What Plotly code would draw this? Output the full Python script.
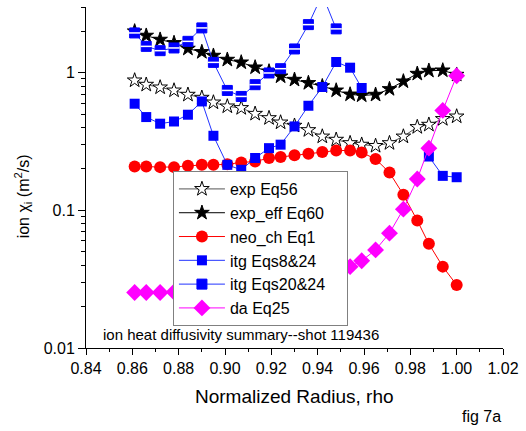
import plotly.graph_objects as go

rho = [0.861, 0.866, 0.872, 0.878, 0.884, 0.890, 0.895, 0.901, 0.907, 0.913,
       0.919, 0.924, 0.930, 0.936, 0.942, 0.948, 0.954, 0.959, 0.965, 0.971,
       0.977, 0.983, 0.988, 0.994, 1.000]

exp_eq56 = [0.879, 0.818, 0.782, 0.743, 0.692, 0.658, 0.608, 0.569, 0.554, 0.503,
            0.468, 0.435, 0.412, 0.383, 0.344, 0.326, 0.308, 0.300, 0.294, 0.308,
            0.344, 0.403, 0.419, 0.461, 0.481]

exp_eff_eq60 = [1.997, 1.858, 1.738, 1.644, 1.495, 1.414, 1.329, 1.243, 1.188, 1.093,
                1.022, 0.940, 0.889, 0.842, 0.798, 0.743, 0.695, 0.684, 0.692, 0.761,
                0.865, 0.983, 1.034, 1.039, 0.967]

neo_ch_eq1 = [0.208, 0.208, 0.206, 0.206, 0.211, 0.214, 0.214, 0.216, 0.223, 0.226,
              0.240, 0.244, 0.251, 0.258, 0.265, 0.272, 0.272, 0.263, 0.236, 0.188,
              0.130, 0.0843, 0.0571, 0.039, 0.0287]

itg_eqs8_24 = [0.595, 0.476, 0.426, 0.442, 0.495, 0.618, 0.348, 0.214, 0.197, 0.240,
               0.283, 0.300, 0.407, 0.575, 0.787, 1.196, 1.087, 0.774, None, None,
               None, None, 0.246, 0.178, 0.174]

itg_eqs20_24 = [1.944, 1.553, 1.445, 1.512, 1.689, 2.114, 1.188, 0.743, 0.672, 0.818,
                0.995, 1.069, 1.487, 2.234, 3.7, 2.08]

da_eq25 = [0.0253, 0.0253, 0.0253, 0.0255, 0.0258, 0.026, 0.0265, 0.027, 0.028, 0.029,
           0.030, 0.031, 0.032, 0.034, 0.035, 0.037, 0.039, 0.043, 0.0516, 0.0683,
           0.102, 0.169, 0.283, 0.532, 0.951]

FONT = "Arial, Liberation Sans, sans-serif"
PAD = "\u00a0" * 4

fig = go.Figure()

fig.add_trace(go.Scatter(
    x=rho, y=exp_eq56, name="exp Eq56", mode="lines+markers",
    line=dict(color="#555555", width=1),
    marker=dict(symbol="star", size=11, color="white", line=dict(color="black", width=1))))

fig.add_trace(go.Scatter(
    x=rho, y=exp_eff_eq60, name="exp_eff Eq60" + PAD, mode="lines+markers",
    line=dict(color="black", width=1),
    marker=dict(symbol="star", size=11, color="black", line=dict(color="black", width=1))))

fig.add_trace(go.Scatter(
    x=rho, y=neo_ch_eq1, name="neo_ch Eq1", mode="lines+markers",
    line=dict(color="red", width=1),
    marker=dict(symbol="circle", size=12, color="red", line=dict(width=0))))

fig.add_trace(go.Scatter(
    x=rho, y=itg_eqs8_24, name="itg Eqs8&24", mode="lines+markers",
    line=dict(color="#2233ff", width=1), connectgaps=False,
    marker=dict(symbol="square", size=10, color="#0000ff", line=dict(width=0))))

fig.add_trace(go.Scatter(
    x=rho[:len(itg_eqs20_24)], y=itg_eqs20_24, name="itg Eqs20&24", mode="lines+markers",
    line=dict(color="#2233ff", width=1),
    marker=dict(symbol="square", size=10, color="#0000ff", line=dict(color="#0000ff", width=1))))

fig.add_trace(go.Scatter(
    x=rho[:len(itg_eqs20_24)], y=itg_eqs20_24, mode="markers", showlegend=False,
    hoverinfo="skip",
    marker=dict(symbol="line-ew", size=8, color="white", line=dict(color="white", width=1.5))))

fig.add_trace(go.Scatter(
    x=rho, y=da_eq25, name="da Eq25", mode="lines+markers",
    line=dict(color="#ff00ff", width=1),
    marker=dict(symbol="diamond", size=13, color="#ff00ff", line=dict(width=0))))

fig.update_layout(
    width=526, height=431,
    margin=dict(l=86, r=18, t=7, b=83),
    paper_bgcolor="white", plot_bgcolor="white",
    font=dict(family=FONT, color="black", size=16),
    showlegend=True,
    legend=dict(x=0.2085, y=0.519, xanchor="left", yanchor="top",
                bgcolor="white", bordercolor="#808080", borderwidth=1,
                font=dict(family=FONT, size=16, color="black"),
                itemwidth=46, tracegroupgap=0),
)

fig.update_xaxes(
    range=[0.84, 1.02], dtick=0.02, tick0=0.84, tickformat=".2f",
    showline=True, linecolor="black", linewidth=1, showgrid=False, zeroline=False,
    ticks="outside", ticklen=6, tickcolor="black", tickwidth=1,
    tickfont=dict(family=FONT, size=16),
    minor=dict(dtick=0.01, ticks="outside", ticklen=3, tickcolor="black", showgrid=False),
)

fig.update_yaxes(
    type="log", range=[-2, 0.4771], dtick=1,
    tickvals=[0.01, 0.1, 1], ticktext=["0.01", "0.1", "1"],
    showline=True, linecolor="black", linewidth=1, showgrid=False, zeroline=False,
    ticks="outside", ticklen=7, tickcolor="black", tickwidth=1,
    tickfont=dict(family=FONT, size=16),
    minor=dict(tickvals=[0.02, 0.03, 0.04, 0.05, 0.06, 0.07, 0.08, 0.09,
                         0.2, 0.3, 0.4, 0.5, 0.6, 0.7, 0.8, 0.9, 2, 3],
               ticks="outside", ticklen=4, tickcolor="black", showgrid=False),
)

fig.add_annotation(text="ion χ<sub>i</sub> (m<sup>2</sup>/s)", xref="paper", yref="paper",
                   x=-0.1517, y=0.444, textangle=-90, showarrow=False,
                   xanchor="center", yanchor="middle", font=dict(family=FONT, size=16))
fig.add_annotation(text="Normalized Radius, rho", xref="paper", yref="paper",
                   x=0.5, y=-0.1408, showarrow=False, xanchor="center", yanchor="middle",
                   font=dict(family=FONT, size=19))
fig.add_annotation(text="ion heat diffusivity summary--shot 119436", xref="paper", yref="paper",
                   x=0.037, y=0.040, showarrow=False, xanchor="left", yanchor="middle",
                   font=dict(family=FONT, size=15))
fig.add_annotation(text="fig 7a", xref="paper", yref="paper",
                   x=0.898, y=-0.2023, showarrow=False, xanchor="left", yanchor="middle",
                   font=dict(family=FONT, size=16))

fig.write_html("out.html")
